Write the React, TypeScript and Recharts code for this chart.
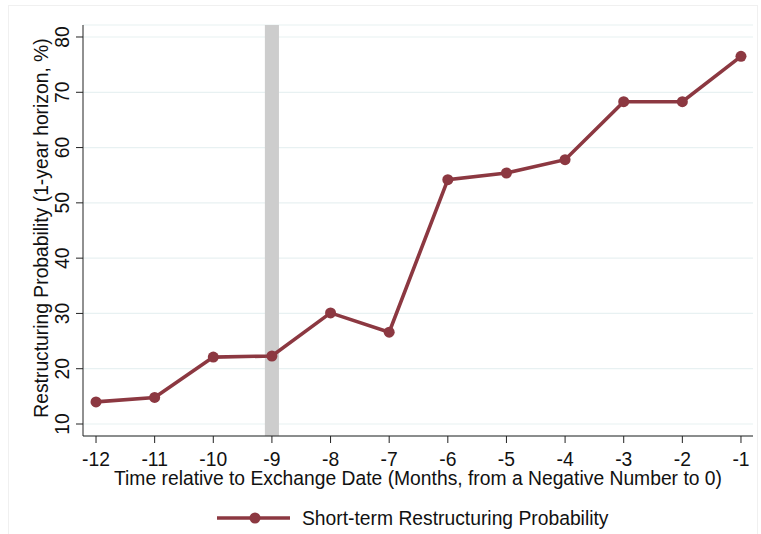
import React from 'react';
import {
  CartesianGrid,
  ComposedChart,
  Line,
  ReferenceArea,
  XAxis,
  YAxis,
} from 'recharts';

// months relative to exchange date, and the short-term restructuring probability (%)
const MONTHS = [-12, -11, -10, -9, -8, -7, -6, -5, -4, -3, -2, -1];
const PROBABILITY = [14.0, 14.8, 22.1, 22.3, 30.1, 26.6, 54.2, 55.4, 57.8, 68.3, 68.3, 76.5];
const Y_TICKS = [10, 20, 30, 40, 50, 60, 70, 80];
const X_TICKS = MONTHS;
const EVENT_MONTH = -9;

const SERIES_NAME = 'Short-term Restructuring Probability';
const X_TITLE = 'Time relative to Exchange Date (Months, from a Negative Number to 0)';
const Y_TITLE = 'Restructuring Probability (1-year horizon, %)';

const LINE_COLOR = '#8c3841';
const FONT = '"Liberation Sans", Arial, sans-serif';
const FS = 19.3;

const rows = MONTHS.map((m, i) => ({ month: m, prob: PROBABILITY[i] }));

function YTick({ x, y, payload }: { x?: number; y?: number; payload?: { value: number } }) {
  if (x == null || y == null || !payload) return null;
  const bx = x - 7;
  return (
    <text
      x={bx}
      y={y}
      transform={`rotate(-90, ${bx}, ${y})`}
      textAnchor="middle"
      fontSize={FS}
      fontFamily={FONT}
      fill="#111"
    >
      {payload.value}
    </text>
  );
}

export default function App() {
  return (
    <div style={{ position: 'absolute', left: 0, top: 0, width: 761, height: 534, background: '#fff' }}>
      <div
        style={{
          position: 'absolute',
          left: 8,
          top: 5,
          width: 750,
          height: 540,
          border: '1px solid #f0f0f0',
          boxSizing: 'border-box',
        }}
      />
      <div style={{ position: 'absolute', left: 0, top: 0 }}>
        <ComposedChart
          width={761}
          height={534}
          data={rows}
          margin={{ top: 25, right: 8, bottom: 68, left: 23 }}
        >
          <CartesianGrid vertical={false} stroke="#e8f1f2" strokeWidth={1.2} />
          <ReferenceArea
            x1={EVENT_MONTH - 0.12}
            x2={EVENT_MONTH + 0.12}
            fill="#cdcdcd"
            fillOpacity={1}
            stroke="none"
          />
          <XAxis
            dataKey="month"
            type="number"
            domain={[-12.222, -0.795]}
            ticks={X_TICKS}
            allowDataOverflow
            height={30}
            tickSize={7}
            tickMargin={9}
            stroke="#222"
            tickLine={{ stroke: '#222' }}
            tick={{ fontSize: FS, fontFamily: FONT, fill: '#111' }}
            interval={0}
          />
          <YAxis
            type="number"
            domain={[7.83, 82.17]}
            ticks={Y_TICKS}
            allowDataOverflow
            width={60}
            tickSize={7}
            tickMargin={0}
            stroke="#222"
            tickLine={{ stroke: '#222' }}
            tick={<YTick />}
            interval={0}
          />
          <Line
            dataKey="prob"
            name={SERIES_NAME}
            stroke={LINE_COLOR}
            strokeWidth={3.6}
            dot={{ r: 5.5, fill: LINE_COLOR, stroke: LINE_COLOR, strokeWidth: 0 }}
            activeDot={false}
            isAnimationActive={false}
          />
          <text
            x={418}
            y={485}
            textAnchor="middle"
            fontSize={FS}
            fontFamily={FONT}
            fill="#111"
          >
            {X_TITLE}
          </text>
          <text
            x={48}
            y={228}
            transform="rotate(-90, 48, 228)"
            textAnchor="middle"
            fontSize={FS}
            fontFamily={FONT}
            fill="#111"
          >
            {Y_TITLE}
          </text>
          <g>
            <line x1={217} y1={518} x2={290} y2={518} stroke={LINE_COLOR} strokeWidth={3.6} />
            <circle cx={255} cy={518} r={5.5} fill={LINE_COLOR} />
            <text x={302} y={525} fontSize={FS} fontFamily={FONT} fill="#111">
              {SERIES_NAME}
            </text>
          </g>
        </ComposedChart>
      </div>
    </div>
  );
}
